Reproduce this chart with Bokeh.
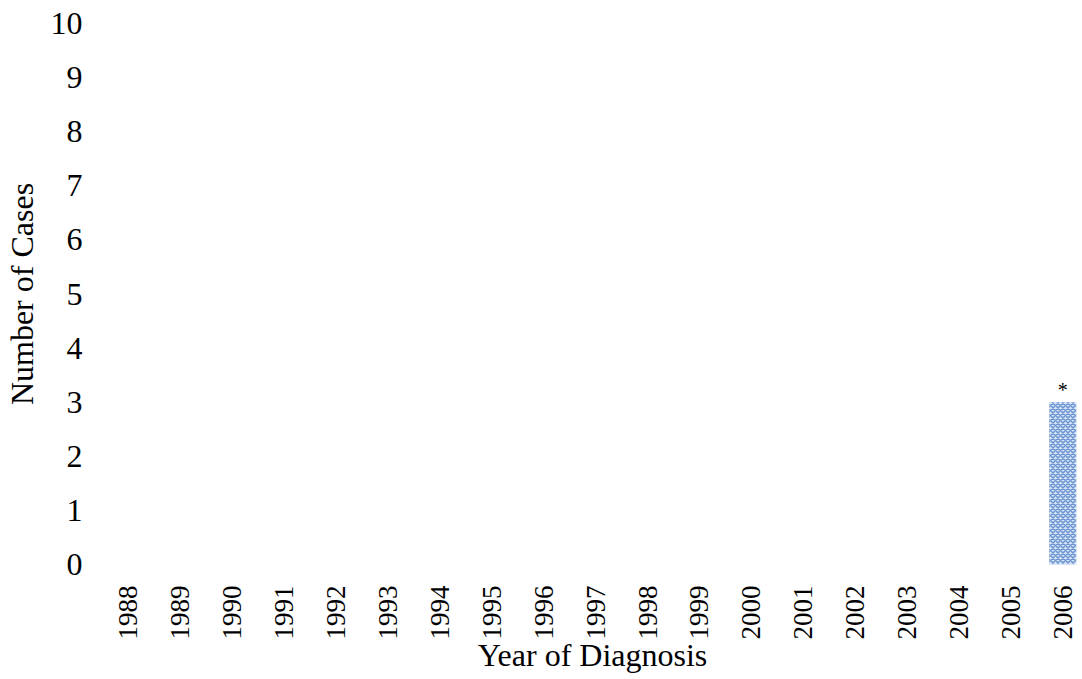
from math import pi
from bokeh.plotting import figure
from bokeh.models import Range1d, FixedTicker, ColumnDataSource
from bokeh.embed import file_html
from bokeh.resources import INLINE
from bokeh.core.properties import value

years = [str(y) for y in range(1988, 2007)]
cases = [0, 0, 0, 0, 0, 0, 0, 0, 0, 0, 0, 0, 0, 0, 0, 0, 0, 0, 3]
annotations = ["", "", "", "", "", "", "", "", "", "", "", "", "", "", "", "", "", "", "*"]
y_ticks = list(range(0, 11))

idx = list(range(len(years)))
src = ColumnDataSource(dict(x=idx, top=cases, label=annotations))

FONT = "Liberation Serif"

p = figure(width=1082, height=679, output_backend="svg", toolbar_location=None,
           x_range=Range1d(-0.5, 18.38), y_range=Range1d(0, 10),
           min_border_left=102, min_border_right=0, min_border_top=23,
           min_border_bottom=115)
p.outline_line_color = None
p.grid.visible = False
p.background_fill_color = None
p.border_fill_color = "white"

p.vbar(x="x", top="top", width=0.52, source=src, bottom=0,
       fill_color="#d6e3f5", line_color=None,
       hatch_pattern="diagonal_cross", hatch_color="#6b94d2",
       hatch_scale=5, hatch_weight=1.5)

p.text(x="x", y="top", text="label", source=src, text_align="center",
       text_baseline="middle", y_offset=-12, text_font=value(FONT),
       text_font_size="20px", text_color="black")

p.xaxis.ticker = FixedTicker(ticks=idx)
p.xaxis.major_label_overrides = {i: y for i, y in enumerate(years)}
p.xaxis.major_label_orientation = pi / 2
p.yaxis.ticker = FixedTicker(ticks=y_ticks)

for ax in (p.xaxis, p.yaxis):
    ax.axis_line_color = None
    ax.major_tick_line_color = None
    ax.minor_tick_line_color = None
    ax.major_tick_out = 0
    ax.major_tick_in = 0
    ax.minor_tick_out = 0
    ax.minor_tick_in = 0
    ax.major_label_text_font = FONT
    ax.axis_label_text_font = FONT
    ax.axis_label_text_font_style = "normal"
    ax.axis_label_text_color = "black"
    ax.major_label_text_color = "black"
    ax.axis_label_text_font_size = "32px"

p.xaxis.major_label_text_font_size = "27px"
p.yaxis.major_label_text_font_size = "32px"
p.xaxis.major_label_standoff = 21
p.yaxis.major_label_standoff = 20
p.xaxis.axis_label = "Year of Diagnosis"
p.yaxis.axis_label = "Number of Cases"
p.xaxis.axis_label_standoff = -6
p.yaxis.axis_label_standoff = 8

open("out.html", "w").write(file_html(p, INLINE))
